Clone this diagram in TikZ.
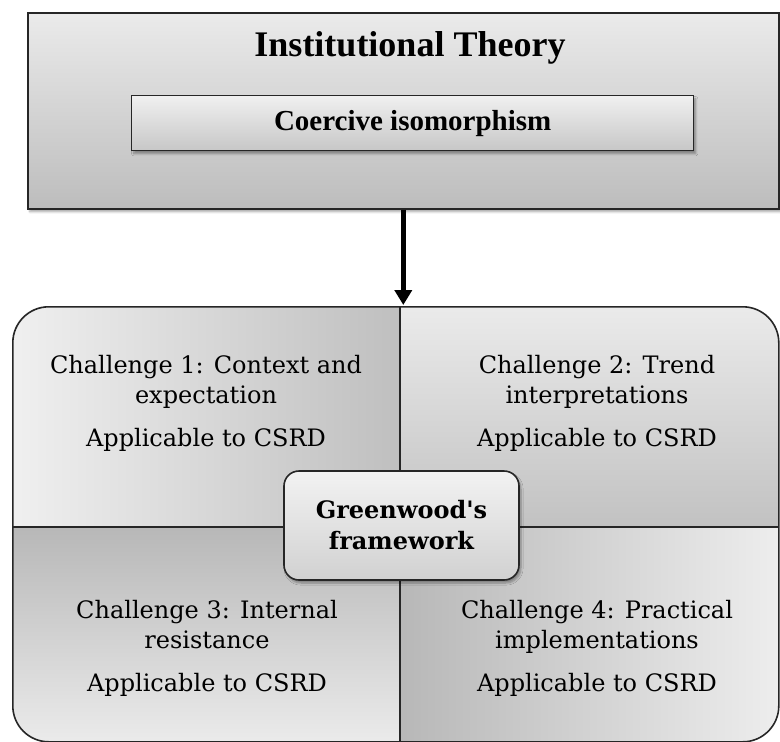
\documentclass[tikz,border=0pt]{standalone}
\usepackage{fontspec}
\setmainfont{DejaVu Serif}
\newfontfamily\titlefont{Liberation Serif}
\usetikzlibrary{arrows.meta,shadows.blur,positioning}

\tikzset{
	box/.style={draw=black!85, line width=1.6pt},
	softshadow/.style={blur shadow={shadow xshift=2pt, shadow yshift=-3pt, shadow opacity=35, shadow blur steps=6}},
	chtext/.style={align=center, font=\fontsize{24}{30}\selectfont},
}

\begin{document}
\begin{tikzpicture}[x=1pt,y=-1pt]
	\useasboundingbox (0,0) rectangle (780,742);

	% theory on top
	\node[box, softshadow, anchor=north west, minimum width=751pt, minimum height=196pt,
		top color=black!8, bottom color=black!26] (theory) at (27,12) {};
	\node[anchor=base, font=\titlefont\bfseries\fontsize{36}{40}\selectfont] (title) at (410,56) {Institutional Theory};
	\node[box, line width=1.4pt, softshadow, anchor=north west, minimum width=562pt, minimum height=55pt,
		top color=black!6, bottom color=black!22,
		font=\titlefont\bfseries\fontsize{29}{32}\selectfont] (coercive) at (131,95) {Coercive isomorphism};

	% four quadrants of the framework
	\begin{scope}
		\clip[rounded corners=36pt] (12,306) rectangle (778,741);
		\shade[left color=black!6, right color=black!25] (12,306) rectangle (400,527);
		\shade[top color=black!8, bottom color=black!24] (400,306) rectangle (778,527);
		\shade[top color=black!28, bottom color=black!8] (12,527) rectangle (400,741);
		\shade[left color=black!28, right color=black!7] (400,527) rectangle (778,741);
	\end{scope}
	\node[box, rounded corners=36pt, anchor=north west, minimum width=766pt, minimum height=435pt] (challenges) at (12,306) {};
	\draw[line width=1.2pt, black!85] (400,306) -- (400,741);
	\draw[line width=1.2pt, black!85] (12,527) -- (778,527);

	\draw[line width=4.5pt, -{Triangle[length=15pt,width=17pt]}, shorten >=1pt] (theory.south) -- (theory.south |- challenges.north);

	\node[chtext] (c1) at (206,403) {Challenge 1: Context and\\expectation\\[13pt]Applicable to CSRD};
	\node[chtext] (c2) at (597,403) {Challenge 2: Trend\\interpretations\\[13pt]Applicable to CSRD};
	\node[chtext] (c3) at (207,648) {Challenge 3: Internal\\resistance\\[13pt]Applicable to CSRD};
	\node[chtext] (c4) at (597,648) {Challenge 4: Practical\\implementations\\[13pt]Applicable to CSRD};

	\node[box, rounded corners=15pt, softshadow, minimum width=235pt, minimum height=109pt,
		top color=black!5, bottom color=black!18, align=center,
		font=\bfseries\fontsize{24}{31}\selectfont] (greenwood) at (401.5,525.5) {Greenwood\textquotesingle s\\framework};
\end{tikzpicture}
\end{document}
